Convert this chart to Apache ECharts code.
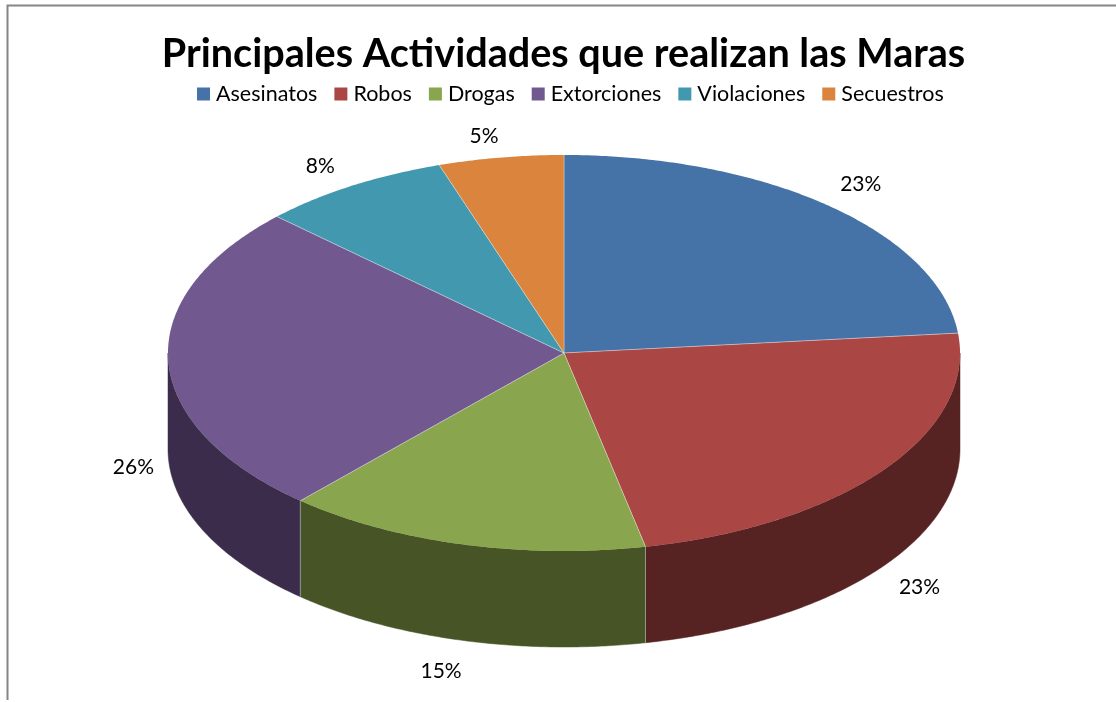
<!DOCTYPE html>
<html>
<head>
<meta charset="utf-8">
<style>html,body{margin:0;padding:0;background:#fff}#c{width:1116px;height:702px}</style>
<script src="https://cdn.jsdelivr.net/npm/echarts@6/dist/echarts.min.js"></script>
</head>
<body>
<div id="c"></div>
<script>
const titleText = 'Principales Actividades que realizan las Maras';
const categories = ['Asesinatos', 'Robos', 'Drogas', 'Extorciones', 'Violaciones', 'Secuestros'];
const shares = [23.4, 23.3, 14.9, 25.5, 7.8, 5.1];
const topColors = ['#4572A7', '#AA4643', '#89A54E', '#71588F', '#4198AF', '#DB843D'];
const wallColors = ['#2A4565', '#562322', '#465426', '#3A2C4A', '#215A69', '#7F4C22'];

const FONT = 'Lato, "Open Sans", sans-serif';
const CX = 564, CY = 353, RX = 396, RY = 198, DEPTH = 96;
const LABEL_RX = 438, LABEL_RY = 228;
const labelNudge = [[3, 0], [2, 4], [-10, 2], [7, 9], [-9, 6], [-10, 8]];

const total = shares.reduce((a, b) => a + b, 0);
const bounds = [0];
shares.forEach(v => bounds.push(bounds[bounds.length - 1] + v / total * 360));

function pt(deg, dy) {
  const r = deg * Math.PI / 180;
  return [CX + RX * Math.sin(r), CY - RY * Math.cos(r) + (dy || 0)];
}
function arc(from, to, dy) {
  const pts = [];
  const n = Math.max(1, Math.ceil((to - from) * 2));
  for (let i = 0; i <= n; i++) pts.push(pt(from + (to - from) * i / n, dy));
  return pts;
}

function renderSlice(i) {
  return function () {
    const s = bounds[i], e = bounds[i + 1];
    const children = [];
    const wf = Math.max(s, 90), wt = Math.min(e, 270);
    if (wt > wf) {
      const top = arc(wf, wt, 0);
      const bot = arc(wf, wt, DEPTH).reverse();
      children.push({
        type: 'polygon',
        shape: { points: top.concat(bot) },
        style: { fill: wallColors[i], stroke: wallColors[i], lineWidth: 0.5 }
      });
      [s, e].forEach(a => {
        if (a > 90 && a < 270) {
          children.push({
            type: 'line',
            shape: { x1: pt(a)[0], y1: pt(a)[1], x2: pt(a, DEPTH)[0], y2: pt(a, DEPTH)[1] },
            style: { stroke: 'rgba(255,255,255,0.35)', lineWidth: 1 }
          });
        }
      });
    }
    children.push({
      type: 'polygon',
      shape: { points: [[CX, CY]].concat(arc(s, e, 0)) },
      style: { fill: topColors[i] }
    });
    [s, e].forEach(a => {
      const p = pt(a);
      children.push({
        type: 'line',
        shape: { x1: CX, y1: CY, x2: p[0], y2: p[1] },
        style: { stroke: 'rgba(255,255,255,0.3)', lineWidth: 1 }
      });
    });
    const mid = (s + e) / 2 * Math.PI / 180;
    const c = Math.cos(mid);
    children.push({
      type: 'text',
      z2: 10,
      style: {
        x: CX + LABEL_RX * Math.sin(mid) + labelNudge[i][0],
        y: CY - LABEL_RY * c + (c < 0 ? DEPTH : 0) + labelNudge[i][1],
        text: Math.round(shares[i] / total * 100) + '%',
        fill: '#000',
        font: '21px ' + FONT,
        align: 'center',
        verticalAlign: 'middle'
      }
    });
    return { type: 'group', children };
  };
}

const chart = echarts.init(document.getElementById('c'), null, { renderer: 'canvas' });
chart.setOption({
  animation: false,
  backgroundColor: '#fff',
  color: topColors,
  title: {
    text: titleText,
    left: 558.5, top: 29, textAlign: 'center',
    textStyle: { fontFamily: FONT, fontWeight: 'bold', fontSize: 39.6, color: '#000' }
  },
  legend: {
    data: categories,
    left: 192, top: 78,
    icon: 'rect',
    itemWidth: 13, itemHeight: 13, itemGap: 17,
    textStyle: { fontFamily: FONT, fontSize: 21.5, color: '#000', padding: [0, 0, 0, 1] }
  },
  graphic: [{
    type: 'polyline',
    shape: { points: [[7.5, 700], [7.5, 5.5], [1116, 5.5]] },
    style: { stroke: '#868686', lineWidth: 2, fill: 'none' },
    silent: true
  }],
  series: categories.map((name, i) => ({
    type: 'custom',
    name,
    coordinateSystem: 'none',
    itemStyle: { color: topColors[i] },
    data: [shares[i]],
    renderItem: renderSlice(i),
    silent: true
  }))
});
</script>
</body>
</html>
